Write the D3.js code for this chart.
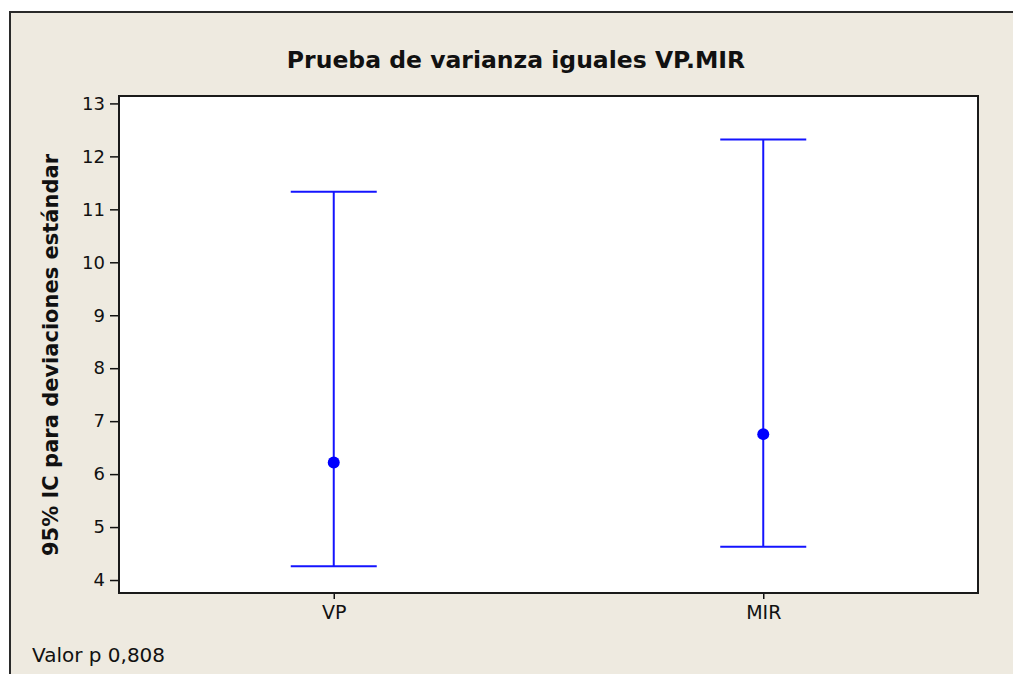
<!DOCTYPE html>
<html>
<head>
<meta charset="utf-8">
<script src="https://cdn.jsdelivr.net/npm/d3@7"></script>
<style>
  html, body { margin: 0; padding: 0; background: #ffffff; }
  svg { display: block; }
  text { font-family: "DejaVu Sans", Verdana, sans-serif; fill: #111; }
</style>
</head>
<body>
<svg id="chart" width="1013" height="674"></svg>
<script>
// Intervalos de confianza del 95% para la desviación estándar de cada grupo
const categories = ["VP", "MIR"];
const ciLower = [4.26, 4.63];
const stdDev = [6.22, 6.755];
const ciUpper = [11.33, 12.32];
const yTickValues = [4, 5, 6, 7, 8, 9, 10, 11, 12, 13];
const titleText = "Prueba de varianza iguales VP.MIR";
const yLabelText = "95% IC para deviaciones estándar";
const pValueText = "Valor p 0,808";

const svg = d3.select("#chart");
const plot = { left: 119, top: 96, right: 978, bottom: 593 };

// Fondo del gráfico con su marco exterior
svg.append("rect")
  .attr("x", 10).attr("y", 12)
  .attr("width", 1020).attr("height", 680)
  .attr("fill", "#eeeae0")
  .attr("stroke", "#2a2a2a").attr("stroke-width", 2);

// Área de datos
svg.append("rect")
  .attr("x", plot.left).attr("y", plot.top)
  .attr("width", plot.right - plot.left).attr("height", plot.bottom - plot.top)
  .attr("fill", "#ffffff");

const x = d3.scalePoint().domain(categories).range([plot.left, plot.right]).padding(0.5);
const y = d3.scaleLinear().domain([3.755, 13.14]).range([plot.bottom, plot.top]);

// Ejes
const yAxis = d3.axisLeft(y).tickValues(yTickValues).tickSize(9).tickPadding(5).tickFormat(d3.format("d"));
const gy = svg.append("g").attr("transform", `translate(${plot.left},0)`).call(yAxis);
const xAxis = d3.axisBottom(x).tickSize(6).tickPadding(7);
const gx = svg.append("g").attr("transform", `translate(0,${plot.bottom})`).call(xAxis);
[gx, gy].forEach(g => {
  g.select(".domain").remove();
  g.selectAll(".tick line").attr("stroke", "#111").attr("stroke-width", 1.5);
  g.selectAll(".tick text").attr("fill", "#111")
    .attr("font-family", "\"DejaVu Sans\", Verdana, sans-serif");
});
gy.selectAll(".tick text").attr("font-size", 18);
gx.selectAll(".tick text").attr("font-size", 19);

// Marco del área de datos
svg.append("rect")
  .attr("x", plot.left).attr("y", plot.top)
  .attr("width", plot.right - plot.left).attr("height", plot.bottom - plot.top)
  .attr("fill", "none").attr("stroke", "#1a1a1a").attr("stroke-width", 2);

// Intervalos
const blue = "#1414ff";
const capHalf = 43;
const rows = categories.map((c, i) => ({ c, lo: ciLower[i], s: stdDev[i], hi: ciUpper[i] }));
const g = svg.append("g");
g.selectAll("line.stem").data(rows).join("line").attr("class", "stem")
  .attr("x1", d => x(d.c)).attr("x2", d => x(d.c))
  .attr("y1", d => y(d.lo)).attr("y2", d => y(d.hi))
  .attr("stroke", blue).attr("stroke-width", 2);
g.selectAll("line.capTop").data(rows).join("line").attr("class", "capTop")
  .attr("x1", d => x(d.c) - capHalf).attr("x2", d => x(d.c) + capHalf)
  .attr("y1", d => y(d.hi)).attr("y2", d => y(d.hi))
  .attr("stroke", blue).attr("stroke-width", 2);
g.selectAll("line.capBottom").data(rows).join("line").attr("class", "capBottom")
  .attr("x1", d => x(d.c) - capHalf).attr("x2", d => x(d.c) + capHalf)
  .attr("y1", d => y(d.lo)).attr("y2", d => y(d.lo))
  .attr("stroke", blue).attr("stroke-width", 2);
g.selectAll("circle").data(rows).join("circle")
  .attr("cx", d => x(d.c)).attr("cy", d => y(d.s)).attr("r", 6)
  .attr("fill", "#0000ff");

// Textos
svg.append("text")
  .attr("x", 516).attr("y", 68)
  .attr("text-anchor", "middle")
  .attr("font-size", 23.5).attr("font-weight", "bold")
  .text(titleText);

svg.append("text")
  .attr("transform", "translate(58,355) rotate(-90)")
  .attr("text-anchor", "middle")
  .attr("font-size", 21).attr("font-weight", "bold")
  .text(yLabelText);

svg.append("text")
  .attr("x", 32).attr("y", 662)
  .attr("font-size", 20)
  .text(pValueText);
</script>
</body>
</html>
